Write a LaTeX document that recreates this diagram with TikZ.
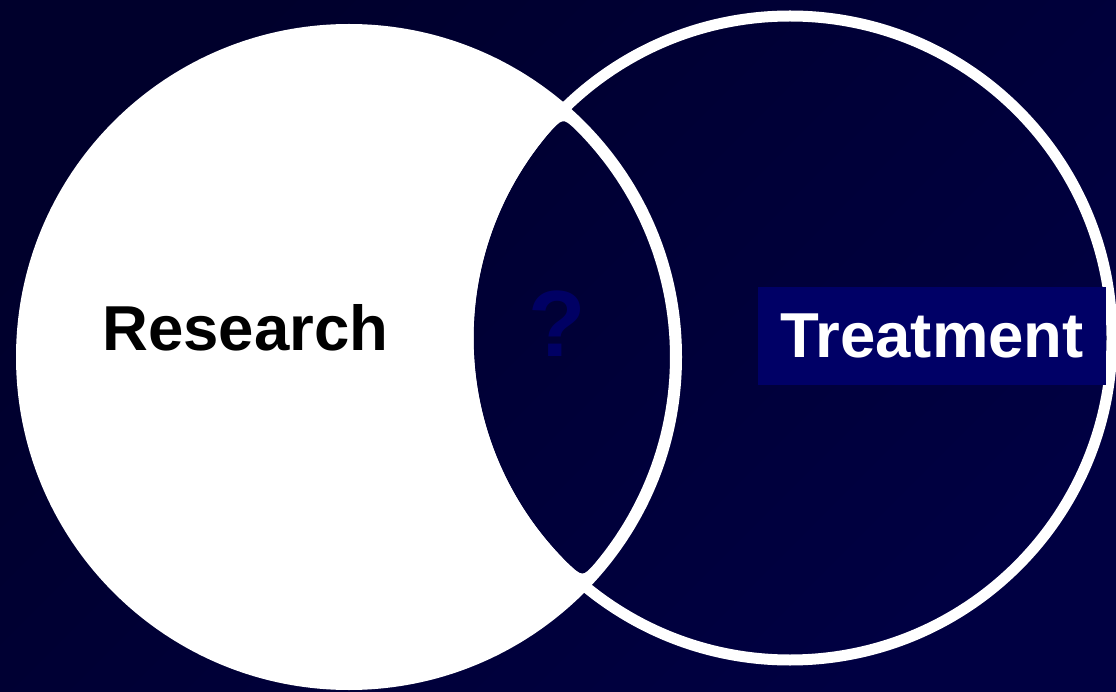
\documentclass[tikz,border=0pt]{standalone}
\usepackage{fontspec}
\setmainfont{Liberation Sans}
\definecolor{bgdark}{RGB}{0,0,44}
\definecolor{bglight}{RGB}{0,0,66}
\definecolor{boxblue}{RGB}{0,0,102}
\definecolor{qblue}{RGB}{0,0,100}
\tikzset{
  label text/.style={font=\bfseries\fontsize{63.5}{70}\selectfont, inner sep=0pt},
  ring/.style={draw=white, line width=#1},
}
\begin{document}
\begin{tikzpicture}[x=1pt,y=-1pt]
\useasboundingbox (0,0) rectangle (1116,692);
% background
\shade[top color=bgdark, bottom color=bglight, shading angle=45] (0,0) rectangle (1116,692);
% tips of the lens
\coordinate (tiptop) at (562.9,117.6);
\coordinate (tipbot) at (582.6,577.2);
\coordinate (lensstart) at ({790+316.5*cos(220)},{338+316.5*sin(220)});
% left disc, white except for the rounded lens
\fill[white, even odd rule] (349,357) circle (333pt)
  plot[domain=220:135, samples=60, variable=\t] ({790+316.5*cos(\t)},{338+316.5*sin(\t)})
  .. controls (tipbot) .. ({349+321*cos(40)},{357+321*sin(40)})
  -- plot[domain=40:-45, samples=60, variable=\t] ({349+321*cos(\t)},{357+321*sin(\t)})
  .. controls (tiptop) .. (lensstart) -- cycle;
% outline of the right circle
\draw[ring=11pt] (790,338) circle (322pt);
% labels
\node[label text, text=black, anchor=base] (research) at (245.5,350.7) {Research};
\node[label text, text=white, fill=boxblue, minimum width=348pt, minimum height=98pt] (treatment) at (932,336) {Treatment};
\node[font=\bfseries\fontsize{94}{100}\selectfont, text=qblue, inner sep=0pt, anchor=base] (question) at (557.5,357) {?};
\end{tikzpicture}
\end{document}
